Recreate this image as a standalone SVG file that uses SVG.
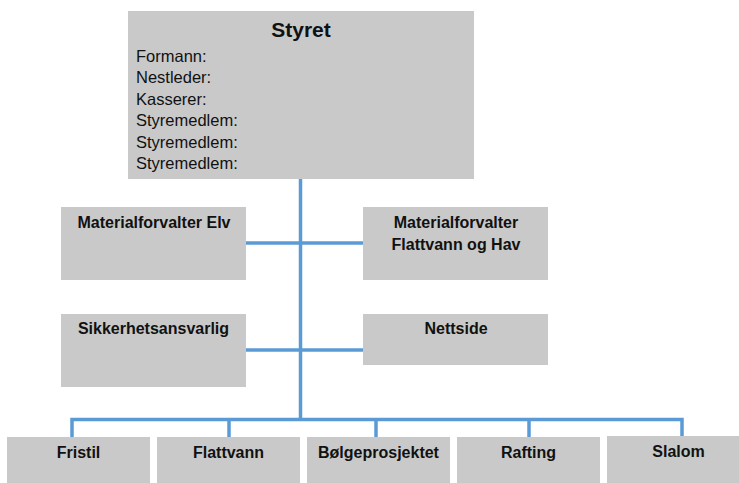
<svg xmlns="http://www.w3.org/2000/svg" width="739" height="483" viewBox="0 0 739 483">
<style>
.box{fill:#c9c9c9;}
.t{font-family:"Liberation Sans",Arial,sans-serif;fill:#111;}
.b{font-weight:bold;font-size:16px;text-anchor:middle;}
.n{font-size:16.5px;}
.c{fill:none;stroke:#5b9bd5;stroke-width:3.5;stroke-linejoin:miter;}
</style>
<rect width="739" height="483" fill="#fff"/>
<g id="connectors">
<line class="c" x1="300.5" y1="179" x2="300.5" y2="419"/>
<line class="c" x1="246" y1="243" x2="363" y2="243"/>
<line class="c" x1="246" y1="350" x2="363" y2="350"/>
<polyline class="c" points="72,437 72,419.5 682,419.5 682,436"/>
<line class="c" x1="229" y1="419" x2="229" y2="437"/>
<line class="c" x1="376" y1="419" x2="376" y2="437"/>
<line class="c" x1="529" y1="419" x2="529" y2="437"/>
</g>
<g id="styret">
<rect class="box" x="128" y="11" width="346" height="168"/>
<text class="t" x="301" y="37" font-size="21" font-weight="bold" text-anchor="middle">Styret</text>
<text class="t n" x="136" y="62">Formann:</text>
<text class="t n" x="136" y="83">Nestleder:</text>
<text class="t n" x="136" y="104.5">Kasserer:</text>
<text class="t n" x="136" y="126">Styremedlem:</text>
<text class="t n" x="136" y="147.5">Styremedlem:</text>
<text class="t n" x="136" y="169">Styremedlem:</text>
</g>
<g id="materialforvalter-elv">
<rect class="box" x="61" y="207" width="185" height="73"/>
<text class="t b" x="154" y="228">Materialforvalter Elv</text>
</g>
<g id="materialforvalter-flattvann">
<rect class="box" x="363" y="207" width="185" height="73"/>
<text class="t b" x="456" y="228">Materialforvalter</text>
<text class="t b" x="456" y="249.5">Flattvann og Hav</text>
</g>
<g id="sikkerhetsansvarlig">
<rect class="box" x="61" y="314" width="185" height="73"/>
<text class="t b" x="153.5" y="334">Sikkerhetsansvarlig</text>
</g>
<g id="nettside">
<rect class="box" x="363" y="314" width="185" height="51"/>
<text class="t b" x="456" y="334">Nettside</text>
</g>
<g id="fristil">
<rect class="box" x="7" y="437" width="143" height="50"/>
<text class="t b" x="78.5" y="458">Fristil</text>
</g>
<g id="flattvann">
<rect class="box" x="157" y="437" width="143" height="50"/>
<text class="t b" x="228.5" y="458">Flattvann</text>
</g>
<g id="bolgeprosjektet">
<rect class="box" x="307" y="437" width="143" height="50"/>
<text class="t b" x="378.5" y="458">Bølgeprosjektet</text>
</g>
<g id="rafting">
<rect class="box" x="457" y="437" width="143" height="50"/>
<text class="t b" x="528.5" y="458">Rafting</text>
</g>
<g id="slalom">
<rect class="box" x="607" y="436" width="143" height="50"/>
<text class="t b" x="678.5" y="456.5">Slalom</text>
</g>
</svg>
